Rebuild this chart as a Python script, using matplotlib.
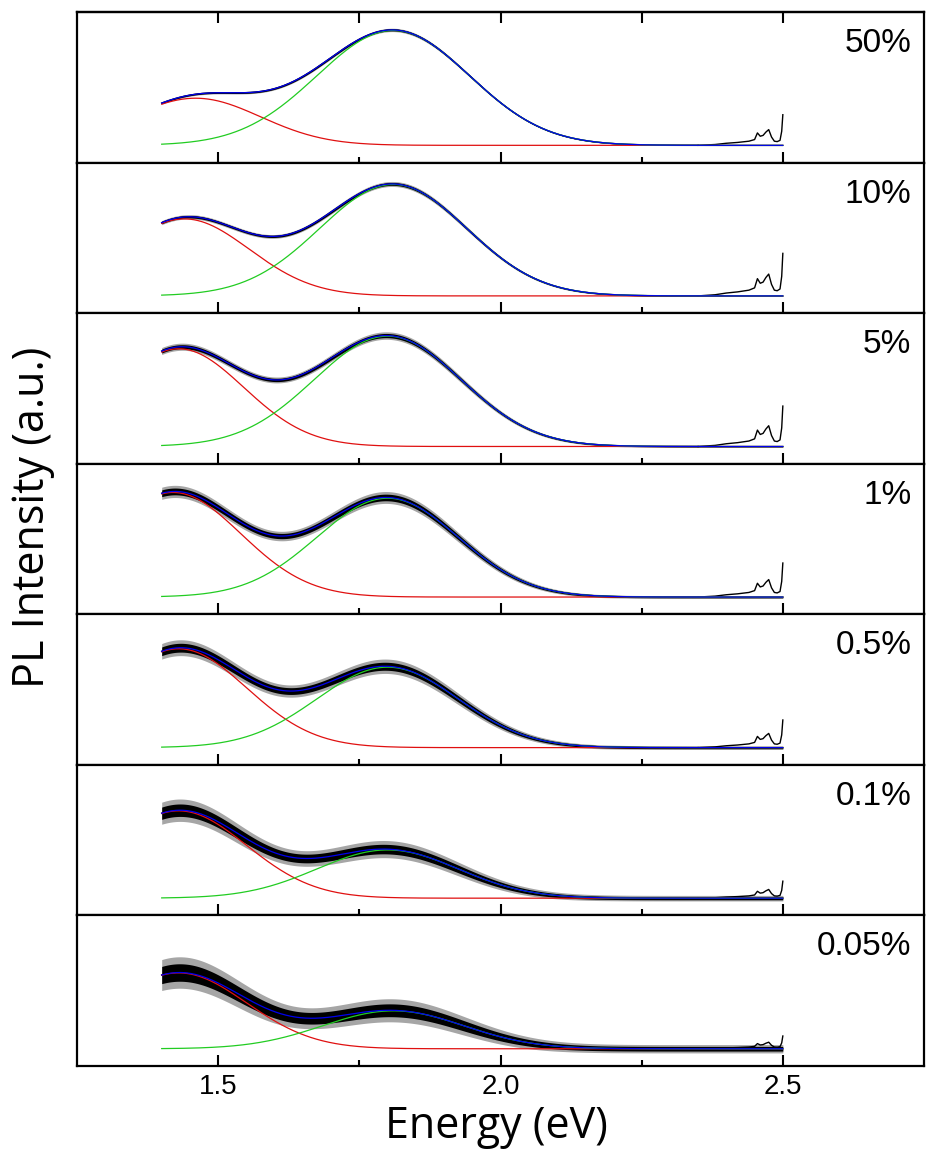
import matplotlib.pyplot as plt
import numpy as np

labels = ['50%', '10%', '5%', '1%', '0.5%', '0.1%', '0.05%']

# two-gaussian fit (height, centre in eV, width in eV)
red_height = [0.41, 0.67, 0.85, 0.91, 0.86, 0.76, 0.66]
red_center = [1.46, 1.44, 1.43, 1.42, 1.43, 1.43, 1.43]
red_width = [0.115, 0.115, 0.115, 0.12, 0.12, 0.12, 0.12]
green_height = [1.00, 0.97, 0.96, 0.86, 0.70, 0.42, 0.33]
green_center = [1.81, 1.81, 1.80, 1.80, 1.80, 1.80, 1.81]
green_width = [0.135, 0.13, 0.13, 0.125, 0.125, 0.125, 0.125]

# noise level of the measured spectrum in each panel
noise_level = [0.008, 0.012, 0.018, 0.03, 0.04, 0.06, 0.09]

# spikes at the high energy end (shape taken from the 10% panel)
spike_e = [2.35, 2.38, 2.40, 2.42, 2.44, 2.45, 2.455, 2.46, 2.465, 2.47,
           2.475, 2.48, 2.485, 2.49, 2.495, 2.498, 2.5]
spike_h = [0.0, 0.01, 0.025, 0.035, 0.05, 0.07, 0.15, 0.11, 0.12, 0.16,
           0.19, 0.10, 0.05, 0.045, 0.06, 0.17, 0.37]
spike_scale = [0.72, 1.0, 0.95, 0.8, 0.65, 0.4, 0.3]


def gauss(x, a, c, w):
    return a * np.exp(-0.5 * ((x - c) / w) ** 2)


e = np.linspace(1.4, 2.5, 881)

fig = plt.figure(figsize=(9.26, 11.51), dpi=100)
left, right = 77 / 926, 924 / 926
top, bottom = 1 - 12 / 1151, 1 - 1066 / 1151
h = (top - bottom) / len(labels)

for i, lab in enumerate(labels):
    ax = fig.add_axes([left, top - (i + 1) * h, right - left, h])
    red = gauss(e, red_height[i], red_center[i], red_width[i])
    green = gauss(e, green_height[i], green_center[i], green_width[i])
    total = red + green
    n = noise_level[i] * np.sqrt(total + 0.05)

    ax.fill_between(e, total - 1.8 * n, total + 1.8 * n, color='k', alpha=0.35, lw=0)
    ax.fill_between(e, total - n, total + n, color='k', lw=0)
    main = e <= 2.35
    ax.plot(e[main], total[main], color='k', lw=1)
    ax.plot(spike_e, np.array(spike_h) * spike_scale[i], color='k', lw=1)
    ax.plot(e, red, color='#e01010', lw=0.9)
    ax.plot(e, green, color='#22cc22', lw=0.9)
    ax.plot(e, total, color='#0000ee', lw=0.9)

    ax.set_xlim(1.25, 2.75)
    ax.set_ylim(-0.15, 1.16)
    ax.set_yticks([])
    ax.set_xticks([1.5, 2.0, 2.5])
    ax.set_xticks([1.75, 2.25], minor=True)
    ax.tick_params(axis='x', which='major', direction='in', length=8, width=1.5,
                   labelsize=20, pad=6, labelbottom=(i == len(labels) - 1))
    ax.tick_params(axis='x', which='minor', direction='in', length=4, width=1.5)
    for lbl in ax.get_xticklabels():
        lbl.set_family('Liberation Sans')
    for s in ax.spines.values():
        s.set_linewidth(1.6)

    if i == 0:
        sec = ax.secondary_xaxis('top')
        sec.set_xticks([1.5, 1.75, 2.0, 2.25, 2.5])
        sec.tick_params(direction='in', length=8, width=1.5, labeltop=False)
        sec.spines['top'].set_linewidth(1.6)

    ax.text(0.985, 0.734, lab, transform=ax.transAxes, ha='right', va='baseline',
            fontsize=24, family='Liberation Sans')

fig.text(496 / 926, 1 - 1138 / 1151, 'Energy (eV)', ha='center', va='baseline',
         fontsize=31, family='Open Sans')
fig.text(33 / 926, 1 - 517 / 1151, 'PL Intensity (a.u.)', rotation=90,
         ha='center', va='center', fontsize=31, family='Open Sans')

fig.savefig('out.png', dpi=100)
